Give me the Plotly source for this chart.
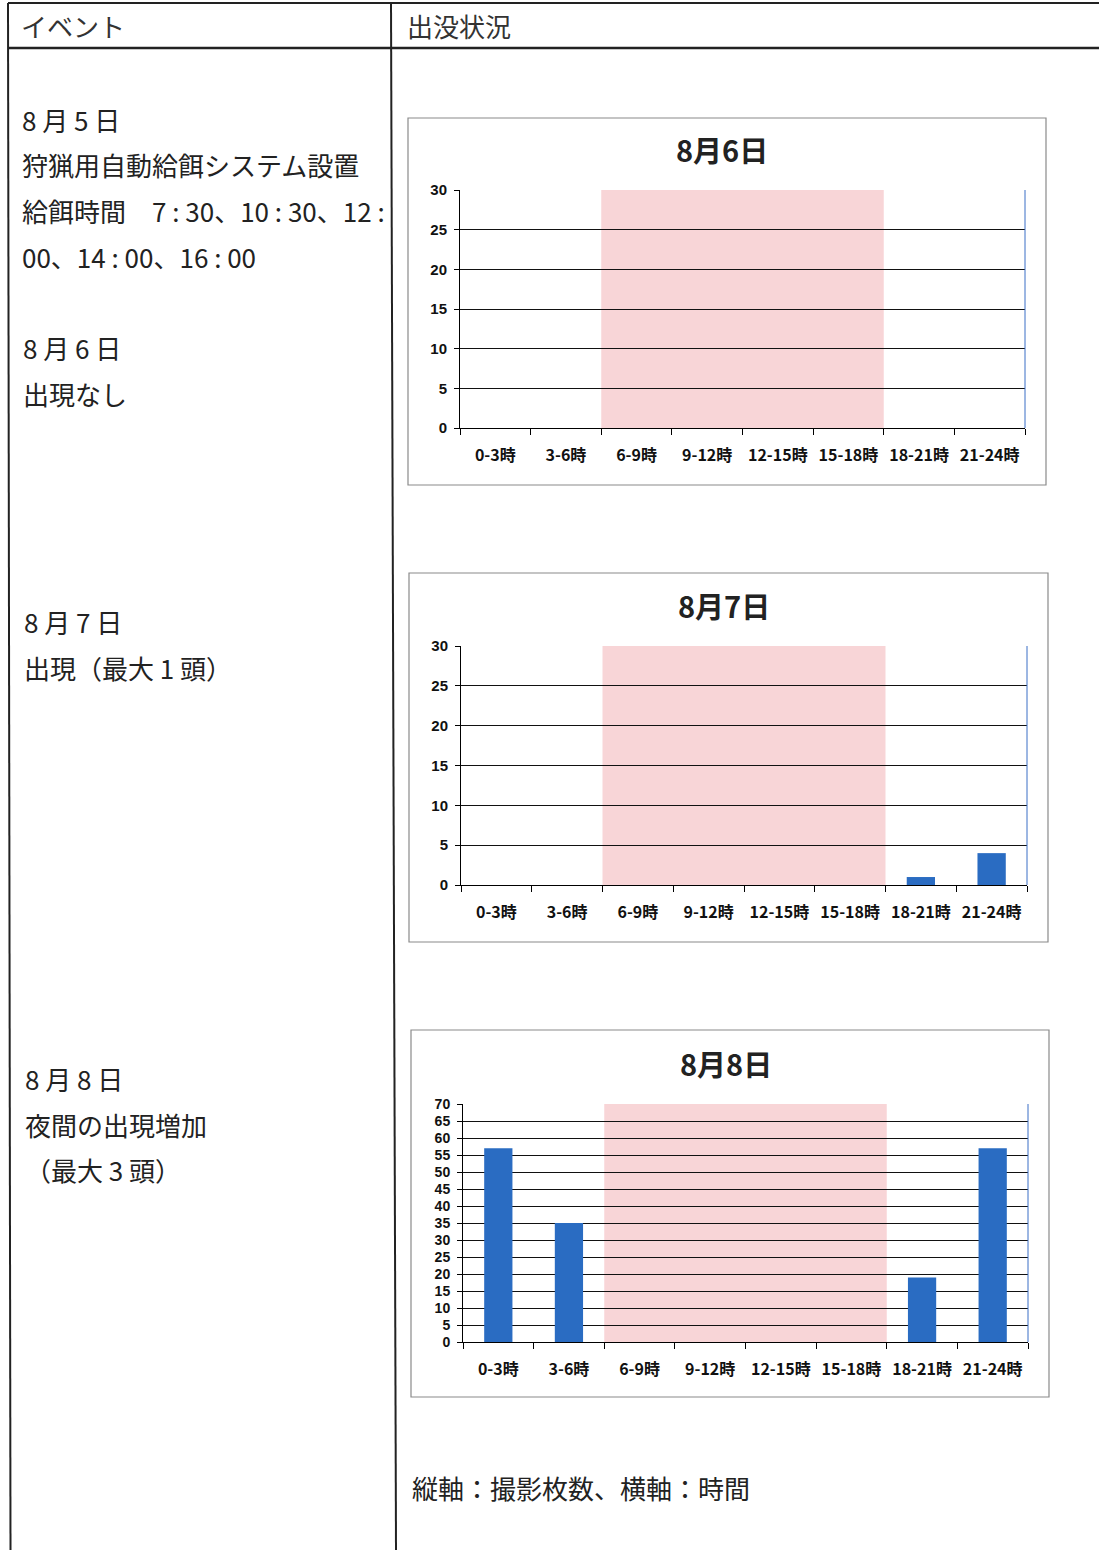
import plotly.graph_objects as go

W, H = 1099, 1550

# ---------------- data ----------------
categories = ["0-3時", "3-6時", "6-9時", "9-12時", "12-15時", "15-18時", "18-21時", "21-24時"]
aug6_counts = [0, 0, 0, 0, 0, 0, 0, 0]
aug7_counts = [0, 0, 0, 0, 0, 0, 1, 4]
aug8_counts = [57, 35, 0, 0, 0, 0, 19, 57]
chart_titles = ["8月6日", "8月7日", "8月8日"]
y_maxima = [30, 30, 70]
daytime_span = ["6-9時", "15-18時"]  # shaded feeding hours

header_labels = ["イベント", "出没状況"]
event_lines = [
    "8 月 5 日",
    "狩猟用自動給餌システム設置",
    "給餌時間　7 : 30、10 : 30、12 :",
    "00、14 : 00、16 : 00",
    "8 月 6 日",
    "出現なし",
    "8 月 7 日",
    "出現（最大 1 頭）",
    "8 月 8 日",
    "夜間の出現増加",
    "（最大 3 頭）",
]
footnote = "縦軸：撮影枚数、横軸：時間"

# ---------------- layout helpers ----------------
def px(x):
    return x / W

def py(y):
    return 1 - y / H

JP = "Noto Sans CJK JP"
BAR_BLUE = "#2a6cc2"
PINK = "#f8d5d7"

# plot-area pixel boxes (left, right, top, bottom) and outer chart frames
plot_boxes = [(460, 1025, 190, 428), (461, 1027, 646, 885), (463, 1028, 1104, 1342)]
frames = [(408, 1046, 118, 485), (409, 1048, 573, 942), (411, 1049, 1030, 1397)]
title_pos = [(722, 149), (724, 605), (726, 1063)]

fig = go.Figure()
shapes = []
annotations = []
series = [aug6_counts, aug7_counts, aug8_counts]

i0 = categories.index(daytime_span[0])
i1 = categories.index(daytime_span[1])

for k in range(3):
    sfx = "" if k == 0 else str(k + 1)
    xa, ya = "x" + sfx, "y" + sfx
    l, r, t, b = plot_boxes[k]
    fig.add_trace(go.Bar(
        x=categories, y=series[k], xaxis=xa, yaxis=ya,
        marker=dict(color=BAR_BLUE, line=dict(width=0)),
        width=0.4, showlegend=False,
    ))
    fig.layout["xaxis" + sfx] = dict(
        domain=[px(l), px(r)], anchor=ya, type="category",
        categoryorder="array", categoryarray=categories,
        range=[-0.5, len(categories) - 0.5],
        showgrid=False, zeroline=False,
        showline=True, linecolor="black", linewidth=1,
        ticks="outside", tickson="boundaries", ticklen=6, tickcolor="black",
        tickfont=dict(family=JP, size=16, color="#111", weight="bold"),
        ticklabelstandoff=13, fixedrange=True, automargin=False,
    )
    fig.layout["yaxis" + sfx] = dict(
        domain=[py(b), py(t)], anchor=xa,
        range=[0, y_maxima[k]], dtick=5, tick0=0,
        showgrid=True, gridcolor="#111", gridwidth=1,
        zeroline=False,
        showline=True, linecolor="black", linewidth=1,
        ticks="outside", ticklen=5, tickcolor="black",
        tickfont=dict(family="Liberation Sans", size=15 if k < 2 else 14,
                      color="#111", weight="bold"),
        ticklabelstandoff=4, fixedrange=True, automargin=False,
    )
    # pink daytime band
    shapes.append(dict(type="rect", xref=xa, yref=ya + " domain",
                       x0=i0 - 0.5, x1=i1 + 0.5, y0=0, y1=1,
                       fillcolor=PINK, line=dict(width=0), layer="below"))
    # blue right border of plot area
    shapes.append(dict(type="line", xref=xa + " domain", yref=ya + " domain",
                       x0=1, x1=1, y0=0, y1=1,
                       line=dict(color="#3b6fc6", width=1)))
    # chart frame
    fl, fr, ft, fb = frames[k]
    shapes.append(dict(type="rect", xref="paper", yref="paper",
                       x0=px(fl), x1=px(fr), y0=py(fb), y1=py(ft),
                       line=dict(color="#8a8a8a", width=1.2)))
    tx, ty = title_pos[k]
    annotations.append(dict(text="<b>" + chart_titles[k] + "</b>", xref="paper", yref="paper",
                            x=px(tx), y=py(ty), xanchor="center", yanchor="middle",
                            showarrow=False, font=dict(family=JP, size=29, color="#222")))

# ---------------- table lines ----------------
line_style = dict(color="#222", width=2)
shapes += [
    dict(type="line", xref="paper", yref="paper", x0=px(8), x1=1, y0=py(3), y1=py(3), line=line_style),
    dict(type="line", xref="paper", yref="paper", x0=px(8), x1=1, y0=py(48), y1=py(48), line=dict(color="#222", width=2.5)),
    dict(type="line", xref="paper", yref="paper", x0=px(8), x1=px(10.5), y0=py(3), y1=py(1550), line=line_style),
    dict(type="line", xref="paper", yref="paper", x0=px(391), x1=px(396), y0=py(3), y1=py(1550), line=line_style),
]

# ---------------- text ----------------
annotations.append(dict(text=header_labels[0], xref="paper", yref="paper", x=px(19), y=py(26),
                        xanchor="left", yanchor="middle", showarrow=False,
                        font=dict(family=JP, size=26, color="#333")))
annotations.append(dict(text=header_labels[1], xref="paper", yref="paper", x=px(405), y=py(26),
                        xanchor="left", yanchor="middle", showarrow=False,
                        font=dict(family=JP, size=26, color="#333")))

event_pos = [(20, 119), (20, 164), (20, 210), (20, 256), (21, 347), (21, 393),
             (22, 621), (22, 667), (23, 1078), (23, 1124), (23, 1169)]
for txt, (x, y) in zip(event_lines, event_pos):
    annotations.append(dict(text=txt, xref="paper", yref="paper", x=px(x), y=py(y),
                            xanchor="left", yanchor="middle", showarrow=False,
                            font=dict(family=JP, size=26, color="#222")))

annotations.append(dict(text=footnote, xref="paper", yref="paper", x=px(410), y=py(1487),
                        xanchor="left", yanchor="middle", showarrow=False,
                        font=dict(family=JP, size=26, color="#222")))

fig.update_layout(
    width=W, height=H, margin=dict(l=0, r=0, t=0, b=0, pad=0, autoexpand=False),
    paper_bgcolor="white", plot_bgcolor="rgba(0,0,0,0)",
    shapes=shapes, annotations=annotations, bargap=0.6, showlegend=False,
)

# remove the default page margin synchronously (before the plot promise resolves)
reset_css = (
    "}); document.documentElement.style.margin='0'; document.body.style.margin='0';"
    " document.body.style.padding='0'; document.body.style.overflow='hidden'; (function(){"
)
fig.write_html("out.html", post_script=reset_css)
